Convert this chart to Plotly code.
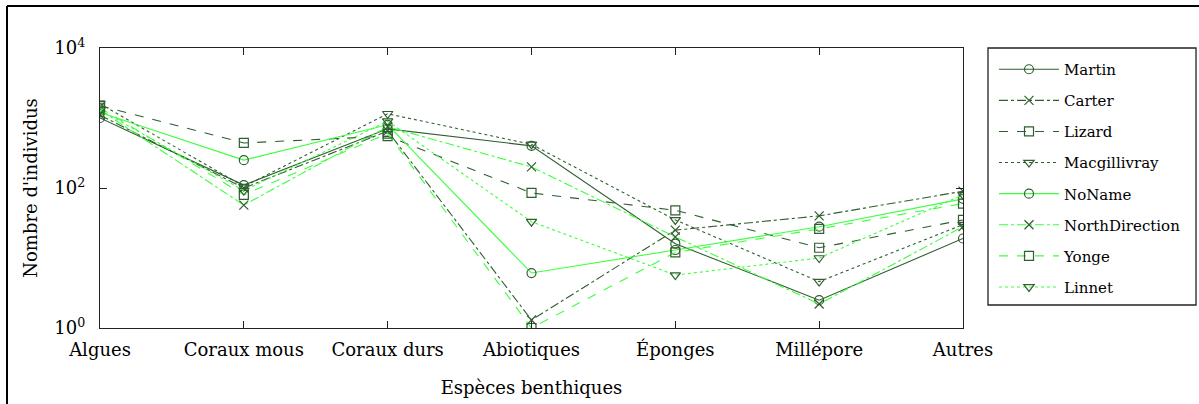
import plotly.graph_objects as go

categories = ["Algues", "Coraux mous", "Coraux durs", "Abiotiques", "Éponges", "Millépore", "Autres"]

martin = [1000, 110, 700, 400, 16, 2.5, 19]
carter = [1100, 100, 650, 1.3, 25, 40, 90]
lizard = [1500, 440, 550, 85, 48, 14, 35]
macgillivray = [1600, 105, 1150, 420, 35, 4.6, 30]
noname = [1200, 250, 800, 6.1, 13, 28, 70]
northdirection = [1300, 57, 750, 200, 20, 2.2, 28]
yonge = [1400, 80, 600, 1.0, 12, 26, 60]
linnet = [1300, 92, 900, 33, 5.7, 10, 80]

series_names = ["Martin", "Carter", "Lizard", "Macgillivray", "NoName", "NorthDirection", "Yonge", "Linnet"]
series_values = [martin, carter, lizard, macgillivray, noname, northdirection, yonge, linnet]

ytick_vals = [1, 100, 10000]
ytick_text = ["10<sup>0</sup>", "10<sup>2</sup>", "10<sup>4</sup>"]

DARK = "#2f5f2f"
LIGHT = "#3cff3c"
styles = [
    (DARK, "solid", "circle-open"),
    (DARK, "dashdot", "x-thin-open"),
    (DARK, "dash", "square-open"),
    (DARK, "dot", "triangle-down-open"),
    (LIGHT, "solid", "circle-open"),
    (LIGHT, "dashdot", "x-thin-open"),
    (LIGHT, "dash", "square-open"),
    (LIGHT, "dot", "triangle-down-open"),
]

FONT = "DejaVu Serif"

fig = go.Figure()
for i, (name, vals) in enumerate(zip(series_names, series_values)):
    col, dash, sym = styles[i]
    fig.add_trace(go.Scatter(
        x=categories, y=vals, name=name, mode="lines+markers",
        legendgroup=name,
        line=dict(color=col, width=1.1, dash=dash),
        marker=dict(symbol=sym, size=9, color=DARK, line=dict(width=1.2, color=DARK)),
    ))

W, H = 1199, 404
L, R, T, B = 100, 963, 48, 328
pw, ph = R - L, B - T

def px(x):
    return (x - L) / pw

def py(y):
    return (B - y) / ph

shapes = [
    # outer frame (top and left)
    dict(type="line", xref="paper", yref="paper", x0=px(7), x1=px(1205), y0=py(6), y1=py(6),
         line=dict(color="black", width=2)),
    dict(type="line", xref="paper", yref="paper", x0=px(7), x1=px(7), y0=py(6), y1=py(410),
         line=dict(color="black", width=2)),
    # legend box
    dict(type="rect", xref="paper", yref="paper", x0=px(988), x1=px(1196), y0=py(48), y1=py(305),
         line=dict(color="#222222", width=1.3), fillcolor="rgba(0,0,0,0)"),
]

fig.update_layout(
    width=W, height=H,
    margin=dict(l=L, r=W - R, t=T, b=H - B, pad=0),
    paper_bgcolor="white", plot_bgcolor="white",
    font=dict(family=FONT, size=18, color="black"),
    showlegend=True,
    legend=dict(
        x=px(994), y=py(53), xanchor="left", yanchor="top",
        font=dict(family=FONT, size=15, color="black"),
        bgcolor="rgba(0,0,0,0)", borderwidth=0,
        tracegroupgap=8.6, itemwidth=60,
    ),
    shapes=shapes,
)

fig.update_xaxes(
    type="category", range=[0, 6],
    showline=True, linecolor="#222222", linewidth=1.3, mirror="ticks",
    ticks="inside", ticklen=7, tickcolor="#222222", tickwidth=1.3,
    showgrid=False, zeroline=False,
    tickfont=dict(family=FONT, size=18),
    ticklabelstandoff=5,
    title=dict(text="Espèces benthiques", font=dict(family=FONT, size=18), standoff=22),
    automargin=False,
)
fig.update_yaxes(
    type="log", range=[0, 4],
    tickvals=ytick_vals, ticktext=ytick_text,
    showline=True, linecolor="#222222", linewidth=1.3, mirror="ticks",
    ticks="inside", ticklen=7, tickcolor="#222222", tickwidth=1.3,
    showgrid=False, zeroline=False,
    tickfont=dict(family=FONT, size=18),
    ticklabelstandoff=10,
    title=dict(text="Nombre d'individus", font=dict(family=FONT, size=18), standoff=12),
    automargin=False,
)

fig.write_html("out.html")
